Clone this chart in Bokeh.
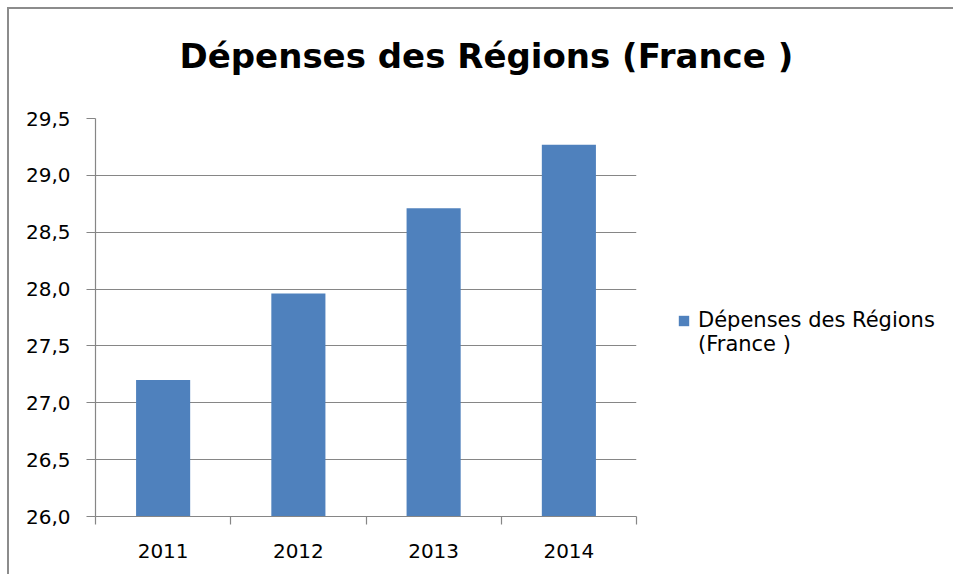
from bokeh.plotting import figure
from bokeh.models import (ColumnDataSource, FixedTicker, CustomJSTickFormatter, Range1d,
                          Legend, LegendItem, Title)
from bokeh.embed import file_html
from bokeh.resources import INLINE

# ---- data ----
years = ["2011", "2012", "2013", "2014"]
values = [27.2, 27.96, 28.71, 29.27]
y_ticks = [26.0, 26.5, 27.0, 27.5, 28.0, 28.5, 29.0, 29.5]
title_text = "Dépenses des Régions (France )"
series_line1 = "Dépenses des Régions"
series_line2 = "(France )"

FONT = "DejaVu Sans"
GREY = "#868686"
BLUE = "#4F81BD"

src = ColumnDataSource(dict(x=[i + 0.5 for i in range(len(years))], top=values, year=years))

p = figure(frame_width=541, frame_height=398, output_backend="svg", toolbar_location=None,
           x_range=Range1d(0, len(years)), y_range=Range1d(y_ticks[0], y_ticks[-1]),
           min_border_left=86, min_border_right=310, min_border_top=109, min_border_bottom=58)
p.styles = {"margin-left": "7px", "margin-top": "7px",
            "border-left": "2px solid #8c8c8c", "border-top": "2px solid #8c8c8c"}

r = p.vbar(x="x", top="top", bottom=y_ticks[0], width=0.4, fill_color=BLUE, line_color=None, source=src)
# invisible renderer only used to carry the second legend line
r2 = p.vbar(x=[], top=[], bottom=y_ticks[0], width=0.4, fill_alpha=0, line_alpha=0)

p.outline_line_color = None
p.background_fill_color = "white"
p.border_fill_color = "white"
p.xgrid.visible = False
p.ygrid.grid_line_color = GREY
p.ygrid.grid_line_width = 1.2

# y axis
p.yaxis.ticker = FixedTicker(ticks=y_ticks)
p.yaxis.formatter = CustomJSTickFormatter(code="return tick.toFixed(1).replace('.', ',');")
p.yaxis.axis_line_color = GREY
p.yaxis.axis_line_width = 1.2
p.yaxis.major_tick_line_color = GREY
p.yaxis.major_tick_line_width = 1.2
p.yaxis.major_tick_out = 9
p.yaxis.major_tick_in = 0
p.yaxis.minor_tick_line_color = None
p.yaxis.major_label_standoff = 16
p.yaxis.major_label_text_font = FONT
p.yaxis.major_label_text_font_size = "20px"
p.yaxis.major_label_text_color = "black"

# x axis: labels at centers, ticks at category boundaries
p.xaxis.ticker = FixedTicker(ticks=[i + 0.5 for i in range(len(years))],
                             minor_ticks=list(range(len(years) + 1)))
p.xaxis.formatter = CustomJSTickFormatter(args=dict(labels=years),
                                          code="return labels[Math.round(tick - 0.5)];")
p.xaxis.axis_line_color = GREY
p.xaxis.axis_line_width = 1.2
p.xaxis.major_tick_line_color = None
p.xaxis.major_tick_out = 0
p.xaxis.major_tick_in = 0
p.xaxis.minor_tick_line_color = GREY
p.xaxis.minor_tick_line_width = 1.2
p.xaxis.minor_tick_out = 8
p.xaxis.minor_tick_in = 0
p.xaxis.major_label_standoff = 19
p.xaxis.major_label_text_font = FONT
p.xaxis.major_label_text_font_size = "20px"
p.xaxis.major_label_text_color = "black"

# spacer between frame and title, then the title itself
spacer = Title(text=" ", standoff=38, text_font_size="1px", text_color="white")
p.add_layout(spacer, "above")
title = Title(text=title_text, align="left", offset=84, standoff=4,
              text_font=FONT, text_font_size="34px", text_font_style="bold", text_color="black")
p.add_layout(title, "above")

# legend
legend = Legend(items=[LegendItem(label=series_line1, renderers=[r]),
                       LegendItem(label=series_line2, renderers=[r2])],
                location=(41, 160), border_line_color=None, background_fill_alpha=0,
                padding=0, margin=0, spacing=0, glyph_width=13, glyph_height=13, label_standoff=8,
                label_text_font=FONT, label_text_font_size="21px", label_text_color="black")
p.add_layout(legend, "right")

open("out.html", "w").write(file_html(p, INLINE))
